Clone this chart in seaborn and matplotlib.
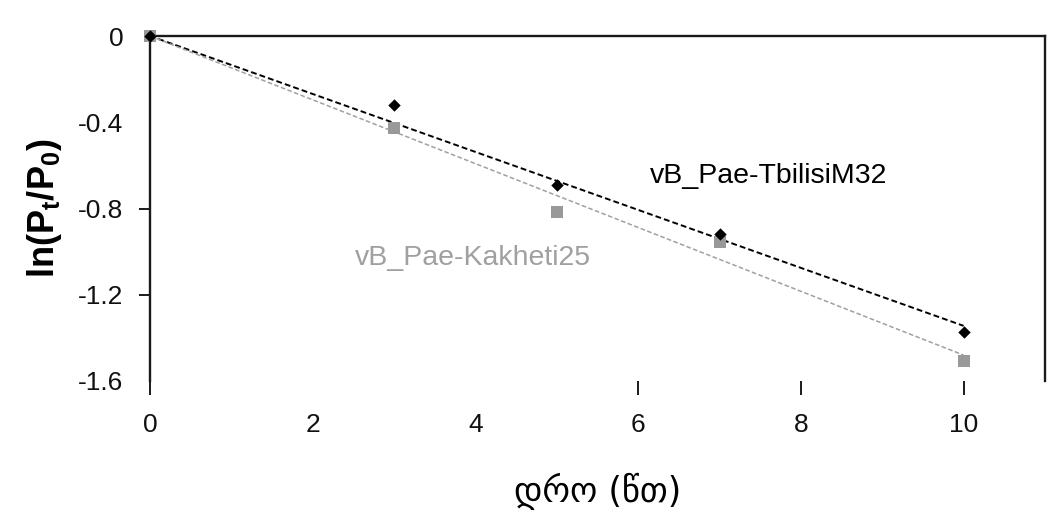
import numpy as np
import pandas as pd
import matplotlib
matplotlib.use("Agg")
import matplotlib.pyplot as plt
import seaborn as sns

# ---- data ----
time_min = [0, 3, 5, 7, 10]
tbilisi_m32 = [0.0, -0.32, -0.69, -0.92, -1.375]
kakheti_25 = [0.0, -0.425, -0.815, -0.955, -1.505]
series_names = ["vB_Pae-TbilisiM32", "vB_Pae-Kakheti25"]
x_ticks = [0, 2, 4, 6, 8, 10]
y_ticks = [0, -0.4, -0.8, -1.2, -1.6]
x_label = "დრო (წთ)"

sns.set_theme(style="white")
plt.rcParams["font.family"] = ["Liberation Sans", "DejaVu Sans"]
plt.rcParams["mathtext.fontset"] = "custom"
plt.rcParams["mathtext.rm"] = "Liberation Sans"
plt.rcParams["mathtext.bf"] = "Liberation Sans:bold"
plt.rcParams["mathtext.it"] = "Liberation Sans:italic"

fig = plt.figure(figsize=(10.62, 5.17), dpi=100)
ax = fig.add_axes([150 / 1062, 1 - 381 / 517, (1045 - 150) / 1062, (381 - 36) / 517])

df = pd.DataFrame({"t": time_min * 2,
                   "v": tbilisi_m32 + kakheti_25,
                   "s": [series_names[0]] * 5 + [series_names[1]] * 5})

# linear trendlines forced through origin
t = np.array(time_min, dtype=float)
fits = []
for name, vals in zip(series_names, [tbilisi_m32, kakheti_25]):
    v = np.array(vals)
    k = (t * v).sum() / (t * t).sum()
    fits.append(pd.DataFrame({"t": [t.min(), t.max()], "v": [k * t.min(), k * t.max()], "s": name}))
fit_df = pd.concat(fits)

colors = {series_names[0]: "#000000", series_names[1]: "#a0a0a0"}
line_w = {series_names[0]: 1.4, series_names[1]: 1.1}
for name in series_names:
    sub = fit_df[fit_df.s == name]
    sns.lineplot(data=sub, x="t", y="v", ax=ax, color=colors[name],
                 lw=line_w[name], dashes=False, legend=False)
for l in ax.get_lines():
    l.set_dashes((3, 1.6))

sns.scatterplot(data=df[df.s == series_names[1]], x="t", y="v", ax=ax, marker="s",
                s=70, color="#999999", edgecolor="#999999", linewidth=0, legend=False,
                zorder=3, clip_on=False)
sns.scatterplot(data=df[df.s == series_names[0]], x="t", y="v", ax=ax, marker="D",
                s=40, color="#000000", edgecolor="#000000", linewidth=0, legend=False,
                zorder=4, clip_on=False)

ax.set_xlim(0, 11)
ax.set_ylim(-1.6, 0)
ax.set_xticks(x_ticks)
ax.set_xticklabels([str(v) for v in x_ticks])
ax.set_yticks(y_ticks)
ax.set_yticklabels(["0", "-0.4", "-0.8", "-1.2", "-1.6"])

for side in ["left", "top", "right"]:
    ax.spines[side].set_visible(True)
    ax.spines[side].set_color("#1a1a1a")
    ax.spines[side].set_linewidth(1.7)
ax.spines["bottom"].set_visible(False)

ax.tick_params(axis="x", bottom=True, direction="out", length=10, width=1.4,
               color="#1a1a1a", labelsize=19, pad=13, labelcolor="#111111")
ax.tick_params(axis="y", left=True, direction="out", length=8, width=1.4,
               color="#1a1a1a", labelsize=19, pad=11, labelcolor="#111111")
# reference shows only some tick marks
for i, tl in enumerate(ax.xaxis.get_major_ticks()):
    if x_ticks[i] in (2, 4):
        tl.tick1line.set_visible(False)
for i, tl in enumerate(ax.yaxis.get_major_ticks()):
    if y_ticks[i] in (0, -0.4, -1.6):
        tl.tick1line.set_visible(False)

ax.set_xlabel(x_label, fontsize=25, family=["DejaVu Sans"], labelpad=26, color="#000000")
ax.set_ylabel(r"$\mathbf{ln(P_t/P_0)}$", fontsize=26, labelpad=10, color="#000000")

ax.text(6.15, -0.682, series_names[0], fontsize=20.5, color="#000000", va="baseline", ha="left")
ax.text(2.52, -1.062, series_names[1], fontsize=20.5, color="#a0a0a0", va="baseline", ha="left")

ax.set_facecolor("white")
fig.patch.set_facecolor("white")
fig.savefig("out.png", dpi=100, facecolor="white")
